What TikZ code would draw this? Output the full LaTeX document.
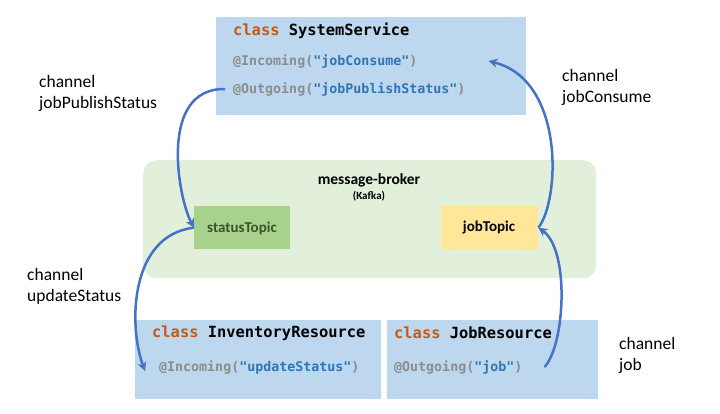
\documentclass[tikz,border=0pt]{standalone}
\usepackage{fontspec}
\setmainfont{Carlito}
\newfontfamily\codefont{DejaVu Sans Mono}
\usetikzlibrary{arrows.meta}
\definecolor{boxblue}{HTML}{BDD7EE}
\definecolor{brokergreen}{HTML}{E2EFDA}
\definecolor{topicgreen}{HTML}{A9D18E}
\definecolor{topicyellow}{HTML}{FFE699}
\definecolor{corange}{HTML}{C55A11}
\definecolor{cblue}{HTML}{2E75B6}
\definecolor{cgray}{HTML}{8C8C8C}
\definecolor{arrowblue}{HTML}{4472C4}
\definecolor{darkgreen}{HTML}{375623}
\newcommand{\clsline}[1]{{\codefont\bfseries\fontsize{15.4}{18}\selectfont\textcolor{corange}{class} #1}}
\newcommand{\annot}[2]{{\codefont\bfseries\fontsize{13.3}{16}\selectfont\textcolor{cgray}{@#1(}\textcolor{cblue}{"#2"}\textcolor{cgray}{)}}}
\tikzset{
  classbox/.style={fill=boxblue, draw=none, anchor=north west, inner sep=0pt},
  codetext/.style={anchor=west, inner sep=0pt},
  chlabel/.style={anchor=west, inner sep=0pt, align=left, font=\fontsize{17.5}{21}\selectfont},
  topic/.style={draw=none, anchor=north west, inner sep=0pt, minimum width=96pt, minimum height=43pt},
  flow/.style={arrowblue, line width=2.5pt, -{Stealth[length=9pt,width=9pt,inset=3pt]}},
}
\begin{document}
\begin{tikzpicture}[x=1pt,y=-1pt]
\useasboundingbox (0,0) rectangle (720,414);
% boxes
\node[classbox, minimum width=310pt, minimum height=98pt] (ssbox) at (216,17) {};
\node[fill=brokergreen, draw=none, rounded corners=13pt, anchor=north west, inner sep=0pt, minimum width=453pt, minimum height=118pt] (broker) at (143,160) {};
\node[topic, fill=topicgreen] (status) at (194,206) {};
\node[topic, fill=topicyellow, minimum width=97pt] (job) at (441,206) {};
\node[classbox, minimum width=246pt, minimum height=79pt] (irbox) at (135,320) {};
\node[classbox, minimum width=211pt, minimum height=79pt] (jrbox) at (387,320) {};
% texts
\node[codetext] (sscls) at (233,31) {\clsline{SystemService}};
\node[codetext] (ssin) at (233,61) {\annot{Incoming}{jobConsume}};
\node[codetext] (ssout) at (233,89) {\annot{Outgoing}{jobPublishStatus}};
\node[codetext] (ircls) at (152,333) {\clsline{InventoryResource}};
\node[codetext] (irin) at (159,367) {\annot{Incoming}{updateStatus}};
\node[codetext] (jrcls) at (394,333) {\clsline{JobResource}};
\node[codetext] (jrout) at (394,367) {\annot{Outgoing}{job}};
\node[inner sep=0pt, font=\bfseries\fontsize{15.5}{18}\selectfont] (brokername) at (369,180) {message-broker};
\node[inner sep=0pt, font=\bfseries\fontsize{11}{13}\selectfont] (kafka) at (369,196) {(Kafka)};
\node[inner sep=0pt, font=\bfseries\fontsize{15}{18}\selectfont, text=darkgreen] (statustext) at (242,228) {statusTopic};
\node[inner sep=0pt, font=\bfseries\fontsize{15}{18}\selectfont] (jobtext) at (489,228) {jobTopic};
\node[chlabel] (l1) at (39,93) {channel\\jobPublishStatus};
\node[chlabel] (l2) at (562,87) {channel\\jobConsume};
\node[chlabel] (l3) at (27,286) {channel\\updateStatus};
\node[chlabel] (l4) at (619,355) {channel\\job};
% connector end points
\coordinate (a1s) at ([xshift=-8pt]ssout.west);
\coordinate (a2e) at ([xshift=-14pt,yshift=-4pt]irin.west);
\coordinate (a3s) at ([xshift=22pt]jrout.east);
\coordinate (a4e) at ([xshift=71pt]ssin.east);
% arrows
\draw[flow] (a1s) .. controls (158,88) and (178,198) .. (status.west);
\draw[flow] (status.west) .. controls (130,235) and (128,325) .. (a2e);
\draw[flow] (a3s) .. controls (565,345) and (570,250) .. (job.east);
\draw[flow] (job.east) .. controls (560,200) and (565,80) .. (a4e);
\end{tikzpicture}
\end{document}
